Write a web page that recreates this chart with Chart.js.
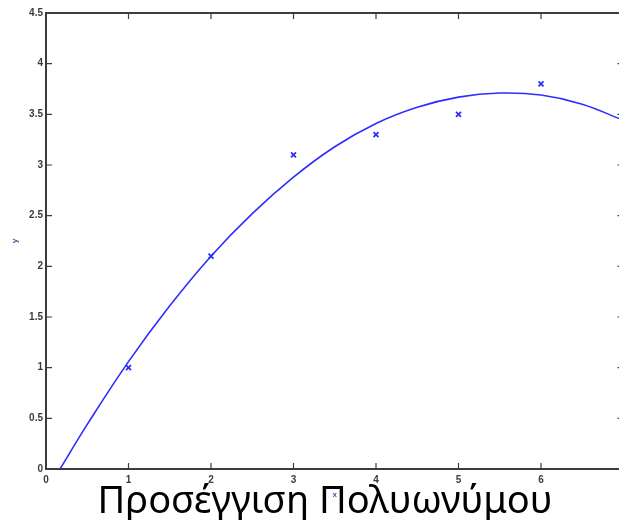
<!DOCTYPE html>
<html>
<head>
<meta charset="utf-8">
<script src="https://cdn.jsdelivr.net/npm/chart.js"></script>
<style>
  html, body { margin: 0; padding: 0; overflow: hidden; background: #fff; }
</style>
</head>
<body>
<canvas id="myChart" width="640" height="520"></canvas>
<script>
// measured points (the x markers)
const pointX = [1, 2, 3, 4, 5, 6];
const pointY = [1.0, 2.1, 3.1, 3.3, 3.5, 3.8];

// fitted polynomial curve
const curveX = [0.17, 0.5, 1, 1.5, 2, 2.5, 3, 3.5, 4, 4.5, 5, 5.5, 6, 6.5, 7];
const curveY = [0, 0.44, 1.06, 1.61, 2.10, 2.52, 2.88, 3.18, 3.41, 3.57, 3.67, 3.71, 3.69, 3.60, 3.44];

// axes
const xRange = [0, 7];
const yRange = [0, 4.5];
const caption = 'Προσέγγιση Πολυωνύμου';

const blue = 'rgb(45, 45, 255)';
const axisColor = '#3c3c3c';
const tickFont = { family: 'Liberation Sans', size: 10, weight: 'bold' };

// matlab style box with inward ticks + the slide caption
const frame = {
  id: 'frame',
  afterDraw(chart) {
    const { ctx, chartArea: a, scales: { x, y } } = chart;
    ctx.save();
    ctx.strokeStyle = axisColor;
    ctx.lineWidth = 2;
    ctx.strokeRect(a.left, a.top, a.right - a.left, a.bottom - a.top);
    ctx.lineWidth = 1.2;
    ctx.beginPath();
    x.ticks.forEach(t => {
      const px = x.getPixelForValue(t.value);
      ctx.moveTo(px, a.bottom); ctx.lineTo(px, a.bottom - 6);
      ctx.moveTo(px, a.top); ctx.lineTo(px, a.top + 6);
    });
    y.ticks.forEach(t => {
      const py = y.getPixelForValue(t.value);
      ctx.moveTo(a.left, py); ctx.lineTo(a.left + 6, py);
      ctx.moveTo(a.right, py); ctx.lineTo(a.right - 6, py);
    });
    ctx.stroke();

    ctx.font = '38px "Noto Sans"';
    ctx.fillStyle = '#000';
    ctx.textAlign = 'center';
    ctx.textBaseline = 'alphabetic';
    ctx.fillText(caption, 325, 513);
    ctx.restore();
  }
};

const canvas = document.getElementById('myChart');
new Chart(canvas, {
  type: 'scatter',
  data: {
    datasets: [
      {
        label: 'fit',
        data: curveX.map((v, i) => ({ x: v, y: curveY[i] })),
        showLine: true,
        tension: 0.4,
        borderColor: blue,
        borderWidth: 1.6,
        pointRadius: 0,
        fill: false
      },
      {
        label: 'data',
        data: pointX.map((v, i) => ({ x: v, y: pointY[i] })),
        pointStyle: 'crossRot',
        pointRadius: 3.5,
        borderColor: blue,
        borderWidth: 1.8
      }
    ]
  },
  options: {
    responsive: false,
    animation: false,
    layout: { padding: { left: 0, top: 13, right: 16.5, bottom: 0 } },
    plugins: {
      legend: { display: false },
      tooltip: { enabled: false }
    },
    scales: {
      x: {
        type: 'linear',
        min: xRange[0],
        max: xRange[1],
        afterFit: s => { s.height = 51; },
        grid: { display: false, drawTicks: false },
        border: { display: false },
        ticks: { stepSize: 1, padding: 5, color: '#3a3a3a', font: tickFont, callback: v => String(v) },
        title: {
          display: true, text: 'x', color: '#5a4a9a',
          font: { family: 'Liberation Sans', size: 8, weight: 'bold' },
          padding: { top: 0, bottom: 20 }
        }
      },
      y: {
        type: 'linear',
        min: yRange[0],
        max: yRange[1],
        afterFit: s => { s.width = 46; },
        grid: { display: false, drawTicks: false },
        border: { display: false },
        ticks: { stepSize: 0.5, padding: 3, color: '#3a3a3a', font: tickFont, callback: v => String(v) },
        title: {
          display: true, text: 'y', color: '#5a4a9a',
          font: { family: 'Liberation Sans', size: 8, weight: 'bold' },
          padding: { top: 10, bottom: 0 }
        }
      }
    }
  },
  plugins: [frame]
});
</script>
</body>
</html>
